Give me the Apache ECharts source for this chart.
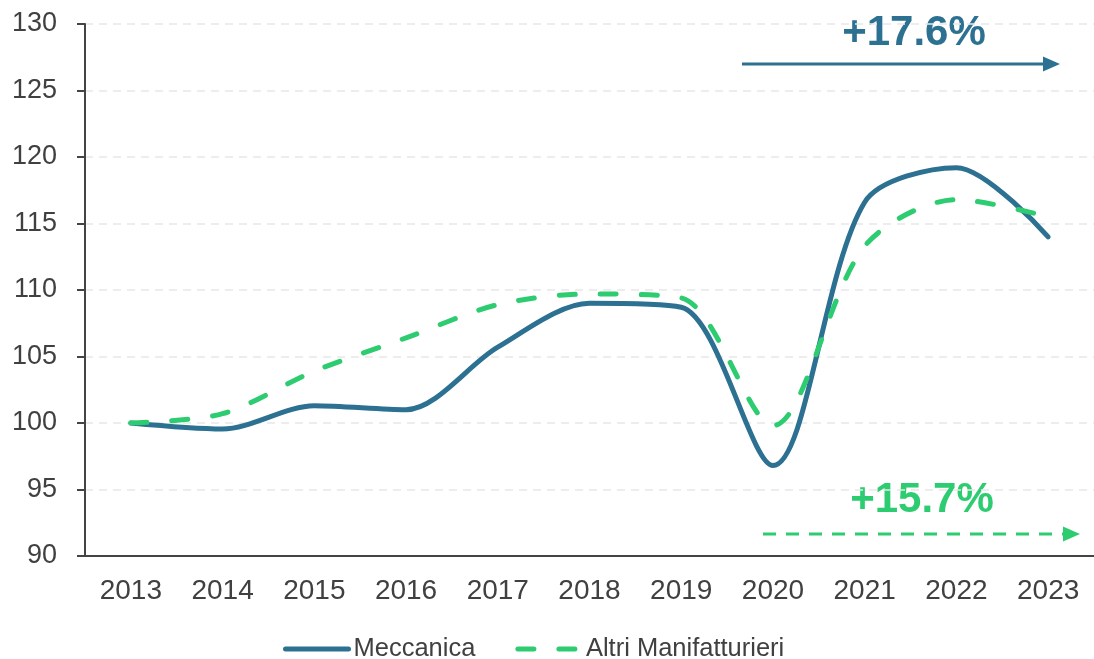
<!DOCTYPE html>
<html>
<head>
<meta charset="utf-8">
<script src="https://cdn.jsdelivr.net/npm/echarts@6/dist/echarts.min.js"></script>
<style>
  html, body { margin: 0; padding: 0; background: #fff; }
  #chart { width: 1094px; height: 659px; }
</style>
</head>
<body>
<div id="chart"></div>
<script>
const years = ['2013', '2014', '2015', '2016', '2017', '2018', '2019', '2020', '2021', '2022', '2023'];
const meccanica = [100, 99.55, 101.3, 101.0, 105.7, 109.0, 108.7, 96.8, 116.6, 119.2, 114.0];
const altri = [100, 100.7, 103.9, 106.4, 108.9, 109.7, 109.4, 99.8, 113.3, 116.8, 115.5];
const seriesNames = ['Meccanica', 'Altri Manifatturieri'];
const labelMecc = '+17.6%';
const labelAltri = '+15.7%';

const BLUE = '#2c7191';
const GREEN = '#2ecc71';
const FONT = '"Liberation Sans", Arial, sans-serif';

const chart = echarts.init(document.getElementById('chart'));
chart.setOption({
    animation: false,
    textStyle: { fontFamily: FONT },
    grid: { left: 85, right: -7, top: 24, bottom: 103, containLabel: false },
    legend: {
        data: seriesNames,
        left: 278,
        top: 631,
        itemWidth: 63,
        itemHeight: 14,
        itemGap: 40,
        itemStyle: { opacity: 0 },
        lineStyle: { width: 5, cap: 'round' },
        textStyle: { fontSize: 25.5, color: '#404040', fontFamily: FONT }
    },
    xAxis: {
        type: 'category',
        data: years,
        boundaryGap: true,
        axisLine: { lineStyle: { color: '#444', width: 2 } },
        axisTick: { show: false },
        axisLabel: { fontSize: 28, color: '#404040', margin: 21 }
    },
    yAxis: {
        type: 'value',
        min: 90,
        max: 130,
        interval: 5,
        axisLine: { show: true, lineStyle: { color: '#444', width: 2 } },
        axisTick: { show: true, length: 8, lineStyle: { color: '#444', width: 2 } },
        axisLabel: { fontSize: 27, color: '#404040', margin: 28 },
        splitLine: { lineStyle: { color: '#e8e8e8', width: 1.5, type: [8, 6] } }
    },
    series: [
        {
            name: seriesNames[0],
            type: 'line',
            data: meccanica,
            smooth: 0.3,
            symbol: 'none',
            itemStyle: { color: BLUE },
            lineStyle: { color: BLUE, width: 5, cap: 'round' },
            z: 3
        },
        {
            name: seriesNames[1],
            type: 'line',
            data: altri,
            smooth: 0.3,
            symbol: 'none',
            itemStyle: { color: GREEN },
            lineStyle: { color: GREEN, width: 5, type: [16, 25], cap: 'round' },
            z: 4
        }
    ],
    graphic: [
        {
            type: 'text', x: 914, y: 33,
            style: { text: labelMecc, fill: BLUE, font: 'bold 42px ' + FONT, align: 'center', verticalAlign: 'middle' }
        },
        {
            type: 'line',
            shape: { x1: 742, y1: 64, x2: 1046, y2: 64 },
            style: { stroke: BLUE, lineWidth: 3 }
        },
        {
            type: 'polygon',
            shape: { points: [[1043, 56.5], [1060, 64], [1043, 71.5]] },
            style: { fill: BLUE }
        },
        {
            type: 'text', x: 922, y: 500,
            style: { text: labelAltri, fill: GREEN, font: 'bold 42px ' + FONT, align: 'center', verticalAlign: 'middle' }
        },
        {
            type: 'line',
            shape: { x1: 763, y1: 534, x2: 1064, y2: 534 },
            style: { stroke: GREEN, lineWidth: 3, lineDash: [13, 10] }
        },
        {
            type: 'polygon',
            shape: { points: [[1063, 526.5], [1080, 534], [1063, 541.5]] },
            style: { fill: GREEN }
        }
    ]
});
</script>
</body>
</html>
